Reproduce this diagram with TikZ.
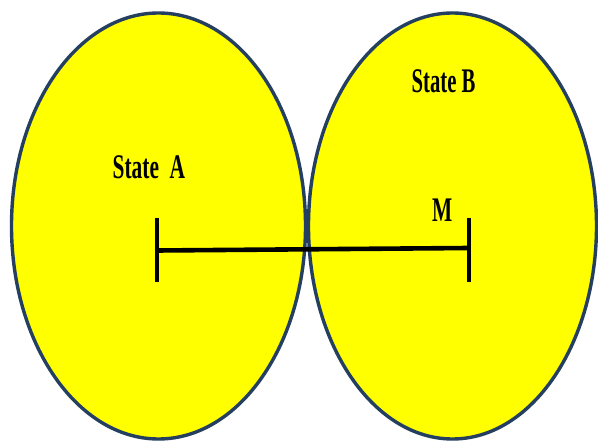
\documentclass[tikz,border=0pt]{standalone}
\usepackage{fontspec}
\setmainfont{Liberation Serif}
\usepackage{graphicx}
\definecolor{stateyellow}{HTML}{FFFF00}
\definecolor{edgeblue}{HTML}{243F60}
\begin{document}
\begin{tikzpicture}[x=1pt,y=-1pt,
  statebox/.style={draw=edgeblue,line width=3.4pt,fill=stateyellow},
  lab/.style={inner sep=0pt,anchor=base west,font=\fontsize{34.5}{34.5}\selectfont\bfseries},
  bar/.style={line width=4.6pt,black}]
\useasboundingbox (0,0) rectangle (598,441);
\fill[white] (0,0) rectangle (598,441);
\path[statebox] (158.5,226) ellipse [x radius=147pt, y radius=213pt];
\path[statebox] (452.5,226) ellipse [x radius=144pt, y radius=213pt];
\coordinate (a) at (157,250.5);
\coordinate (b) at (469,248);
\coordinate (a1) at (157,218);
\coordinate (a2) at (157,282);
\coordinate (b1) at (469,218);
\coordinate (b2) at (469,282);
\draw[bar] (a) -- (b);
\draw[bar] (a1) -- (a2);
\draw[bar] (b1) -- (b2);
\node[lab] (sa) at (112.5,179) {\scalebox{0.62}[1]{State\ \ A}};
\node[lab] (sb) at (411.5,93) {\scalebox{0.6}[1]{State B}};
\node[lab] (m) at (432,222) {\scalebox{0.62}[1]{M}};
\end{tikzpicture}
\end{document}
